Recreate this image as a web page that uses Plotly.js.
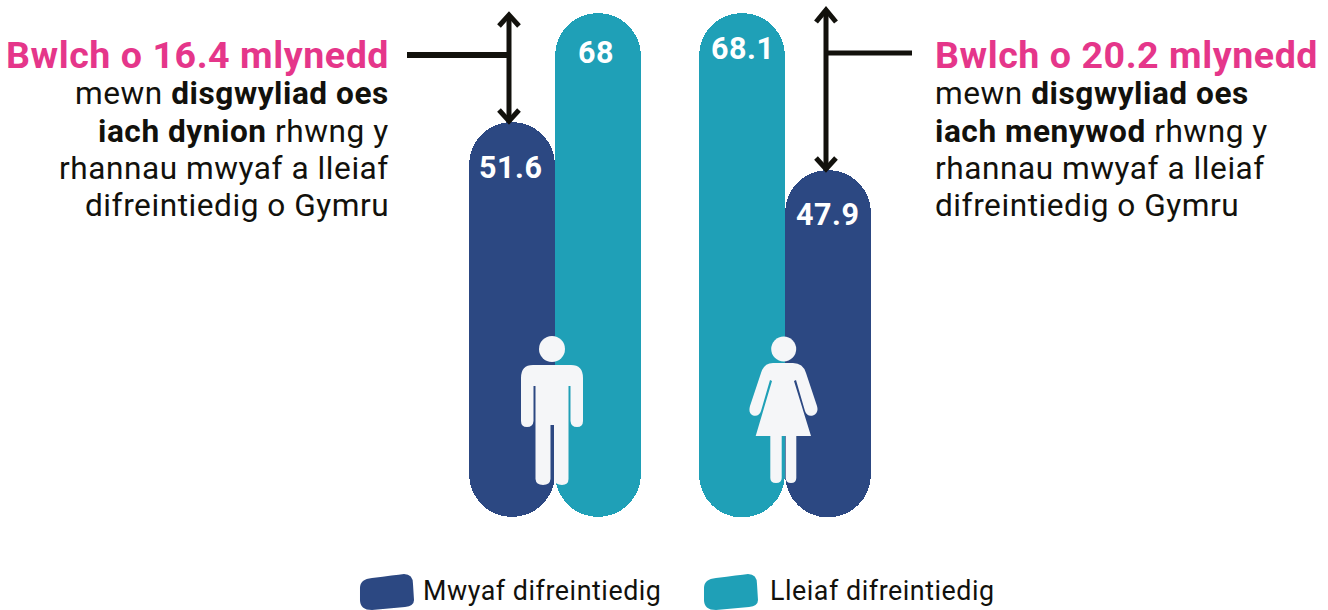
<!DOCTYPE html>
<html><head><meta charset="utf-8">
<script src="https://cdn.plot.ly/plotly-3.0.1.min.js"></script>
<style>html,body{margin:0;padding:0;background:#fff;overflow:hidden}#c{width:1328px;height:610px}
.annotation-text{letter-spacing:.55px}</style>
</head><body><div id="c"></div>
<script>
// ---- data ----
const menCategories = ["Mwyaf difreintiedig", "Lleiaf difreintiedig"];
const womenCategories = ["Lleiaf difreintiedig", "Mwyaf difreintiedig"];
const menValues = [51.6, 68];
const womenValues = [68.1, 47.9];
const menLabels = ["51.6", "68"];
const womenLabels = ["68.1", "47.9"];
const legendLabels = ["Mwyaf difreintiedig", "Lleiaf difreintiedig"];
const menHeadline = "Bwlch o 16.4 mlynedd";
const womenHeadline = "Bwlch o 20.2 mlynedd";
const menBody = ["mewn <b>disgwyliad oes</b>", "<b>iach dynion</b> rhwng y", "rhannau mwyaf a lleiaf", "difreintiedig o Gymru"];
const womenBody = ["mewn <b>disgwyliad oes</b>", "<b>iach menywod</b> rhwng y", "rhannau mwyaf a lleiaf", "difreintiedig o Gymru"];

// ---- style ----
const DARK = "#2c4882", TEAL = "#1fa0b7", PINK = "#e5368a", INK = "#12110c", ICON = "#f5f6f8";
const FONT = "Roboto";
const W = 1328, H = 610;
const fx = v => v / W, fy = v => 1 - v / H;
// convert a px-space path into paper fractions
const P = s => s.replace(/(-?[\d.]+),(-?[\d.]+)/g, (m, a, b) => fx(+a).toFixed(5) + "," + fy(+b).toFixed(5));

// axis windows: both panels are drawn to their own vertical scale, as in the picture
const menRange = [-21.83, 69.956], womenRange = [-8.72, 69.77];
const menFoot = -7.83, womenFoot = 3.2;

function columns(cats, vals, colors, foot, xa, ya) {
  return {type:"bar", x:cats, y:vals.map(v => v - foot), base:vals.map(() => foot),
    marker:{color:colors, line:{width:0}}, xaxis:xa, yaxis:ya, hoverinfo:"skip"};
}
const data = [
  columns(menCategories, menValues, [DARK, TEAL], menFoot, "x", "y"),
  columns(womenCategories, womenValues, [TEAL, DARK], womenFoot, "x2", "y2")
];

const hidden = {showgrid:false, zeroline:false, showticklabels:false, ticks:"", showline:false, fixedrange:true};
const ann = [];
function text(t, x, y, size, color, anchor) {
  ann.push({text:t, xref:"paper", yref:"paper", x:fx(x), y:fy(y), xanchor:anchor, yanchor:"middle",
    showarrow:false, font:{family:FONT, size:size, color:color}, borderpad:0});
}
text("<b>" + menHeadline + "</b>", 390, 55, 37.6, PINK, "right");
text("<b>" + womenHeadline + "</b>", 934, 55, 37.6, PINK, "left");
[94, 131, 168, 205].forEach((y, i) => {
  text(menBody[i], 390, y, 31.6, INK, "right");
  text(womenBody[i], 934, y, 31.6, INK, "left");
});
text(legendLabels[0], 422, 591, 26.8, INK, "left");
text(legendLabels[1], 769, 591, 26.8, INK, "left");
// value labels sit a fixed distance under the bar tops
const lab = (cats, vals, labels, xa, ya, sy, sx) => cats.forEach((c, i) => ann.push({
  text:"<b>" + labels[i] + "</b>", x:c, y:vals[i], xref:xa, yref:ya, yanchor:"middle", xanchor:"center",
  yshift:sy[i], xshift:sx[i], showarrow:false, font:{family:FONT, size:30.5, color:"#fff"}}));
lab(menCategories, menValues, menLabels, "x", "y", [-46, -39], [-1, -2]);
lab(womenCategories, womenValues, womenLabels, "x2", "y2", [-36, -45], [1, 0]);

const ink = w => ({color:INK, width:w});
const stroke = (d, w) => ({type:"path", xref:"paper", yref:"paper", path:P(d), line:ink(w), fillcolor:"rgba(0,0,0,0)"});
const fill = (d, c) => ({type:"path", xref:"paper", yref:"paper", path:P(d), line:{width:0}, fillcolor:c});
const disc = (cx, cy, r) => ({type:"circle", xref:"paper", yref:"paper", x0:fx(cx-r), x1:fx(cx+r), y0:fy(cy+r), y1:fy(cy-r), line:{width:0}, fillcolor:ICON});

const shapes = [
  // men's arrow
  stroke("M509,15 L509,122", 5),
  stroke("M499,26 L509,15 L519,26", 5),
  stroke("M499,110 L509,121 L519,110", 5),
  stroke("M407,55 L509,55", 6),
  // women's arrow
  stroke("M826,10 L826,170", 5),
  stroke("M816,22 L826,10 L836,22", 5),
  stroke("M816,158 L826,169 L836,158", 5),
  stroke("M826,53 L912,53", 5),
  // man
  disc(552, 349, 13),
  fill("M533,365 L571,365 Q583,365 583,378 L583,421 Q583,427 577,427 Q571,427 570.5,421 L570.5,386 L568.5,386 L568.5,479 Q568.5,485 562,485 Q555,485 554,479 L554,425 L550.5,425 L550.5,479 Q550,485 543,485 Q536,485 535.5,479 L535.5,386 L533.5,386 L533.5,421 Q533,427 527,427 Q521,427 521,421 L521,378 Q521,365 533,365 Z", ICON),
  // woman
  disc(783.7, 349, 12.5),
  fill("M773,363 L793,363 Q803,363 806,373 L817,406 Q819,413 813,415.5 Q807,417 805,411 L796,380 L794,381 L811,436 L796.3,436 L796.3,478 Q796.3,483 791,483 Q785.7,483 785.7,478 L785.7,436 L781.7,436 L781.7,478 Q781.7,483 776,483 Q770.3,483 770.3,478 L770.3,436 L755.7,436 L772,381 L770,380 L761,411 Q759,417 753,415.5 Q748,413 750,406 L761,373 Q764,363 773,363 Z", ICON),
  // legend swatches
  fill("M372,578 Q395,575 404,574 Q413,574 413,584 L414,600 Q414,606 405,607 L372,610 Q360,610 360,600 L360,588 Q360,579 372,578 Z", DARK),
  fill("M716,578 Q739,575 748,574 Q757,574 757,584 L758,600 Q758,606 749,607 L716,610 Q704,610 704,600 L704,588 Q704,579 716,578 Z", TEAL)
];

const layout = {
  width:W, height:H, margin:{l:0, r:0, t:0, b:0}, paper_bgcolor:"#fff", plot_bgcolor:"rgba(0,0,0,0)",
  showlegend:false, barmode:"overlay", bargap:0, barcornerradius:43,
  xaxis:{...hidden, domain:[fx(469), fx(641)], type:"category", categoryorder:"array", categoryarray:menCategories, anchor:"y"},
  yaxis:{...hidden, domain:[0,1], range:menRange, anchor:"x"},
  xaxis2:{...hidden, domain:[fx(699), fx(871)], type:"category", categoryorder:"array", categoryarray:womenCategories, anchor:"y2"},
  yaxis2:{...hidden, domain:[0,1], range:womenRange, anchor:"x2"},
  annotations:ann, shapes:shapes
};
Plotly.newPlot("c", data, layout, {displayModeBar:false, staticPlot:true});
</script></body></html>
